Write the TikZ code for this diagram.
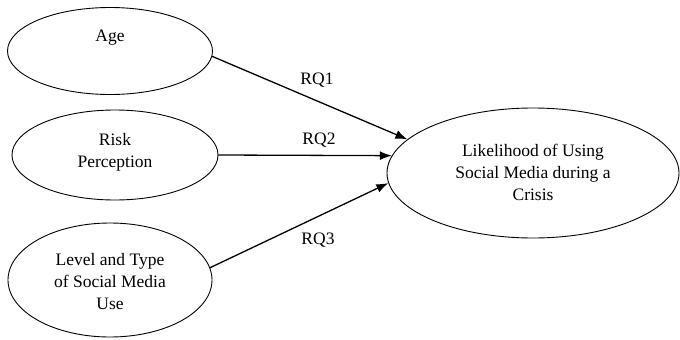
\documentclass[tikz,border=0pt]{standalone}
\usepackage{fontspec}
\setmainfont{Liberation Serif}
\usetikzlibrary{shapes.geometric,arrows.meta}
\begin{document}
\begin{tikzpicture}[x=1pt,y=-1pt,
  oval/.style={draw,ellipse,line width=0.9pt,inner sep=0pt},
  txt/.style={align=center,font=\fontsize{17.5}{22}\selectfont,inner sep=0pt},
  arr/.style={line width=1.3pt,-{Latex[length=12pt,width=9pt]}},
  rq/.style={font=\fontsize{17.5}{22}\selectfont,inner sep=0pt}]
\useasboundingbox (0,0) rectangle (680,340);
\node[oval,minimum width=205pt,minimum height=87pt] (age) at (110,51) {};
\node[txt] (agetxt) at (110,38) {Age};
\node[oval,minimum width=206pt,minimum height=90pt] (risk) at (115,155) {};
\node[txt] (risktxt) at (115,152) {Risk\\Perception};
\node[oval,minimum width=204pt,minimum height=114pt] (lvl) at (110,280) {};
\node[txt] (lvltxt) at (110,282) {Level and Type\\of Social Media\\Use};
\node[oval,minimum width=292pt,minimum height=130pt] (lik) at (533,173) {};
\node[txt] (liktxt) at (533,172) {Likelihood of Using\\Social Media during a\\Crisis};
\draw[arr] (age.-3.4) -- (lik.165.9);
\draw[arr] (risk.east) -- (lik.173.1);
\draw[arr] (lvl.7.3) -- (lik.184);
\node[rq] (rq1) at (317,80) {RQ1};
\node[rq] (rq2) at (319,140) {RQ2};
\node[rq] (rq3) at (318,240) {RQ3};
\end{tikzpicture}
\end{document}
